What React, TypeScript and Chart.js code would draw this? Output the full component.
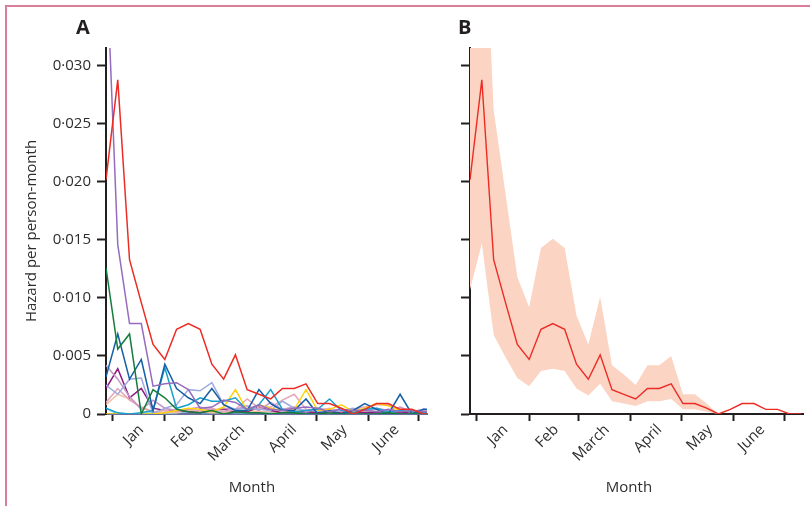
import React, { useEffect, useRef } from 'react';
import { Chart, registerables } from 'chart.js';

Chart.register(...registerables);

// Week points: days relative to 1 January (weekly)
const weekDays = [-4, 3, 10, 17, 24, 31, 38, 45, 52, 59, 66, 73, 80, 87, 94, 101, 108, 115, 122, 129, 136, 143, 150, 157, 164, 171, 178, 185, 192];
const monthStarts = [0, 31, 60, 91, 121, 152, 182];
const monthLabels = ['Jan', 'Feb', 'March', 'April', 'May', 'June'];
const monthLabelDays = [17, 47, 77, 108, 138, 169];
const yTicks = [0, 0.005, 0.01, 0.015, 0.02, 0.025, 0.03];

// Panel B: pooled estimate with 95% CI
const estimate = [0.0202, 0.0288, 0.0133, 0.0096, 0.0060, 0.0047, 0.0073, 0.0078, 0.0073, 0.0043, 0.0030, 0.0051, 0.0021, 0.0017, 0.0013, 0.0022, 0.0022, 0.0026, 0.0009, 0.0009, 0.0005, 0, 0.0004, 0.0009, 0.0009, 0.0004, 0.0004, 0, 0];
const upperCI = [0.045, 0.049, 0.0262, 0.0190, 0.0118, 0.0092, 0.0143, 0.0151, 0.0143, 0.0085, 0.0060, 0.0101, 0.0042, 0.0034, 0.0025, 0.0042, 0.0042, 0.0050, 0.0017, 0.0017, 0.0009, 0, 0.0004, 0.0009, 0.0009, 0.0004, 0.0004, 0, 0];
const lowerCI = [0.0107, 0.0147, 0.0068, 0.0049, 0.0031, 0.0024, 0.0037, 0.0039, 0.0037, 0.0022, 0.0016, 0.0026, 0.0011, 0.0009, 0.0007, 0.0011, 0.0011, 0.0013, 0.0004, 0.0004, 0.0002, 0, 0.0004, 0.0009, 0.0009, 0.0004, 0.0004, 0, 0];

// Panel A: individual series
const purpleSeries = [0.040, 0.0146, 0.0078, 0.0078, 0.0024, 0.0026, 0.0027, 0.0021, 0.0005, 0.0006, 0.0012, 0.0010, 0.0004, 0.0008, 0.0004, 0.0003, 0.0005, 0.0006, 0.0005, 0.0002, 0.0004, 0.0003, 0.0003, 0.0002, 0.0004, 0.0002, 0.0003, 0.0002, 0.0002];
const greenSeries = [0.0126, 0.0056, 0.0069, 0, 0.0021, 0.0014, 0.0004, 0.0002, 0.0001, 0.0003, 0, 0.0002, 0.0001, 0.0001, 0, 0.0001, 0.0001, 0, 0, 0.0001, 0, 0, 0, 0, 0.0001, 0, 0, 0, 0];
const darkBlueSeries = [0.0032, 0.0069, 0.0030, 0.0047, 0.0003, 0.0043, 0.0022, 0.0014, 0.0009, 0.0022, 0.0008, 0.0003, 0.0003, 0.0021, 0.0009, 0.0003, 0.0003, 0.0013, 0, 0.0003, 0, 0.0003, 0.0009, 0.0004, 0, 0.0017, 0, 0.0004, 0.0004];
const cyanSeries = [0.0005, 0.0001, 0, 0.0001, 0.0003, 0.0040, 0.0005, 0.0008, 0.0014, 0.0011, 0.0011, 0.0014, 0.0003, 0.0008, 0.0021, 0.0004, 0.0002, 0.0003, 0.0004, 0.0013, 0.0003, 0.0001, 0.0004, 0.0005, 0.0002, 0.0003, 0.0002, 0.0001, 0.0002];
const yellowSeries = [0, 0, 0, 0, 0, 0.0001, 0.0003, 0.0005, 0.0004, 0.0002, 0.0006, 0.0021, 0.0003, 0.0008, 0.0005, 0.0003, 0.0004, 0.0021, 0.0003, 0.0004, 0.0008, 0.0002, 0.0005, 0.0009, 0.0007, 0.0003, 0.0002, 0.0002, 0.0001];
const lavenderSeries = [0.0025, 0.0017, 0.0030, 0.0031, 0, 0.0005, 0.0008, 0.0021, 0.0020, 0.0027, 0.0008, 0.0004, 0.0005, 0.0004, 0.0003, 0.0011, 0.0005, 0.0003, 0.0004, 0.0002, 0.0003, 0.0005, 0.0003, 0.0004, 0.0002, 0.0003, 0.0002, 0.0004, 0.0002];
const mauveSeries = [0.0042, 0.0030, 0.0015, 0.0004, 0.0012, 0.0005, 0.0003, 0.0004, 0.0006, 0.0003, 0.0005, 0.0004, 0.0007, 0.0003, 0.0010, 0.0004, 0.0006, 0.0002, 0.0005, 0.0003, 0.0004, 0.0002, 0.0003, 0.0005, 0.0003, 0.0006, 0.0002, 0.0003, 0.0002];
const pinkSeries = [0.0010, 0.0022, 0.0012, 0.0006, 0.0002, 0.0003, 0.0002, 0.0004, 0.0003, 0.0005, 0.0002, 0.0004, 0.0013, 0.0005, 0.0006, 0.0012, 0.0017, 0.0004, 0.0003, 0.0005, 0.0002, 0.0004, 0.0006, 0.0008, 0.0008, 0.0003, 0.0002, 0.0004, 0.0002];
const magentaSeries = [0.0022, 0.0039, 0.0014, 0.0022, 0.0005, 0.0003, 0.0003, 0.0002, 0.0001, 0.0003, 0.0004, 0.0002, 0.0002, 0.0006, 0.0003, 0.0001, 0.0002, 0.0002, 0.0001, 0.0002, 0.0001, 0.0002, 0.0001, 0.0001, 0, 0.0001, 0.0001, 0.0001, 0];
const peachSeries = [0.0008, 0.0017, 0.0013, 0.0005, 0.0002, 0.0001, 0.0001, 0.0003, 0.0002, 0.0001, 0.0001, 0.0002, 0.0003, 0.0002, 0.0002, 0.0001, 0.0003, 0.0002, 0.0004, 0.0002, 0.0001, 0.0003, 0.0002, 0.0004, 0.0002, 0.0003, 0.0001, 0.0002, 0.0002];
const lightCyanSeries = [0.0005, 0, 0, 0, 0.0001, 0, 0.0001, 0.0002, 0.0001, 0.0001, 0.0002, 0.0001, 0.0001, 0.0002, 0.0001, 0.0001, 0.0002, 0.0001, 0.0002, 0.0001, 0.0001, 0.0001, 0.0001, 0.0001, 0.0001, 0.0001, 0.0001, 0.0001, 0.0001];

const RED = 'rgb(236,44,36)';
const BAND = 'rgb(251,212,196)';
const AXIS = '#231f20';
const TEXT = 'rgb(45,45,45)';
const FONT = "'Open Sans', sans-serif";

const seriesA: [number[], string][] = [
  [estimate, RED],
  [purpleSeries, 'rgb(150,108,190)'],
  [greenSeries, 'rgb(20,125,60)'],
  [darkBlueSeries, 'rgb(20,95,165)'],
  [cyanSeries, 'rgb(25,160,205)'],
  [yellowSeries, 'rgb(255,210,10)'],
  [lavenderSeries, 'rgb(160,170,222)'],
  [mauveSeries, 'rgb(196,150,202)'],
  [pinkSeries, 'rgb(232,165,185)'],
  [magentaSeries, 'rgb(140,25,125)'],
  [peachSeries, 'rgb(240,190,160)'],
  [lightCyanSeries, 'rgb(90,200,225)'],
];

const toPoints = (vals: number[]) => vals.map((v, i) => ({ x: weekDays[i], y: v }));

function xScale(min: number, max: number, borderColor: string) {
  return {
    type: 'linear',
    min,
    max,
    afterBuildTicks: (s: any) => {
      s.ticks = [...monthStarts, ...monthLabelDays].sort((a, b) => a - b).map((v) => ({ value: v }));
    },
    afterFit: (s: any) => {
      s.height = 92;
    },
    ticks: {
      autoSkip: false,
      minRotation: 45,
      maxRotation: 45,
      padding: 0,
      color: TEXT,
      font: { family: FONT, size: 15 },
      callback: (v: number) => {
        const i = monthLabelDays.indexOf(v);
        return i >= 0 ? monthLabels[i] : '';
      },
    },
    grid: {
      drawOnChartArea: false,
      drawTicks: true,
      tickLength: 7,
      tickWidth: 2,
      tickColor: (ctx: any) => (ctx.tick && monthStarts.includes(ctx.tick.value) ? AXIS : 'rgba(0,0,0,0)'),
    },
    border: { display: true, color: borderColor, width: 2 },
  };
}

function yScale(width: number, showLabels: boolean) {
  return {
    type: 'linear',
    min: 0,
    max: 0.03155,
    afterBuildTicks: (s: any) => {
      s.ticks = yTicks.map((v) => ({ value: v }));
    },
    afterFit: (s: any) => {
      s.width = width;
    },
    ticks: {
      padding: 6,
      color: TEXT,
      font: { family: FONT, size: 15 },
      callback: (v: number) => (showLabels ? (v === 0 ? '0' : v.toFixed(3).replace('.', '·')) : ''),
    },
    grid: { drawOnChartArea: false, drawTicks: true, tickLength: 9, tickWidth: 2, tickColor: AXIS },
    border: { display: true, color: AXIS, width: 2 },
    title: {
      display: showLabels,
      text: 'Hazard per person-month',
      color: TEXT,
      font: { family: FONT, size: 15 },
      padding: { top: 3, bottom: 0 },
    },
  };
}

function PanelA() {
  const ref = useRef<HTMLCanvasElement>(null);
  useEffect(() => {
    const chart = new Chart(ref.current!, {
      type: 'line',
      data: {
        datasets: seriesA.map(([vals, color]) => ({
          data: toPoints(vals),
          borderColor: color,
          borderWidth: 1.5,
          pointRadius: 0,
          tension: 0,
          fill: false,
        })),
      },
      options: {
        animation: false,
        responsive: false,
        devicePixelRatio: 1,
        parsing: true,
        layout: { padding: { left: 20, top: 48, right: 13, bottom: 0 } },
        plugins: { legend: { display: false }, tooltip: { enabled: false } },
        scales: {
          x: xScale(-4, 187, 'rgb(105,112,158)') as any,
          y: yScale(86, true) as any,
        },
      },
    });
    return () => chart.destroy();
  }, []);
  return <canvas ref={ref} width={440} height={506} style={{ position: 'absolute', left: 0, top: 0, width: 440, height: 506 }} />;
}

function PanelB() {
  const ref = useRef<HTMLCanvasElement>(null);
  useEffect(() => {
    const chart = new Chart(ref.current!, {
      type: 'line',
      data: {
        datasets: [
          {
            data: toPoints(estimate),
            borderColor: RED,
            borderWidth: 1.4,
            pointRadius: 0,
            tension: 0,
            fill: false,
          },
          {
            data: toPoints(upperCI),
            borderColor: 'rgba(0,0,0,0)',
            borderWidth: 0,
            backgroundColor: BAND,
            pointRadius: 0,
            tension: 0,
            fill: '+1',
          },
          {
            data: toPoints(lowerCI),
            borderColor: 'rgba(0,0,0,0)',
            borderWidth: 0,
            pointRadius: 0,
            tension: 0,
            fill: false,
          },
        ],
      },
      options: {
        animation: false,
        responsive: false,
        devicePixelRatio: 1,
        layout: { padding: { left: 0, top: 48, right: 7, bottom: 0 } },
        plugins: { legend: { display: false }, tooltip: { enabled: false } },
        scales: {
          x: xScale(-4, 193, AXIS) as any,
          y: yScale(30, false) as any,
        },
      },
    });
    return () => chart.destroy();
  }, []);
  return <canvas ref={ref} width={370} height={506} style={{ position: 'absolute', left: 440, top: 0, width: 370, height: 506 }} />;
}

const textStyle: React.CSSProperties = {
  position: 'absolute',
  fontFamily: FONT,
  color: TEXT,
  whiteSpace: 'nowrap',
};

export default function App() {
  return (
    <div style={{ position: 'absolute', left: 0, top: 0, width: 810, height: 506, overflow: 'hidden', background: '#fff' }}>
      <div
        style={{
          position: 'absolute',
          left: 5,
          top: 5,
          width: 900,
          height: 700,
          borderLeft: '2px solid rgb(218,125,152)',
          borderTop: '2px solid rgb(218,125,152)',
        }}
      />
      <PanelA />
      <PanelB />
      <div style={{ ...textStyle, left: 76, top: 17, fontSize: 20, lineHeight: '20px', fontWeight: 700, color: '#231f20' }}>A</div>
      <div style={{ ...textStyle, left: 458, top: 17, fontSize: 20, lineHeight: '20px', fontWeight: 700, color: '#231f20' }}>B</div>
      <div style={{ ...textStyle, left: 202, width: 100, textAlign: 'center', top: 477, fontSize: 15, lineHeight: '18px' }}>Month</div>
      <div style={{ ...textStyle, left: 579, width: 100, textAlign: 'center', top: 477, fontSize: 15, lineHeight: '18px' }}>Month</div>
    </div>
  );
}
